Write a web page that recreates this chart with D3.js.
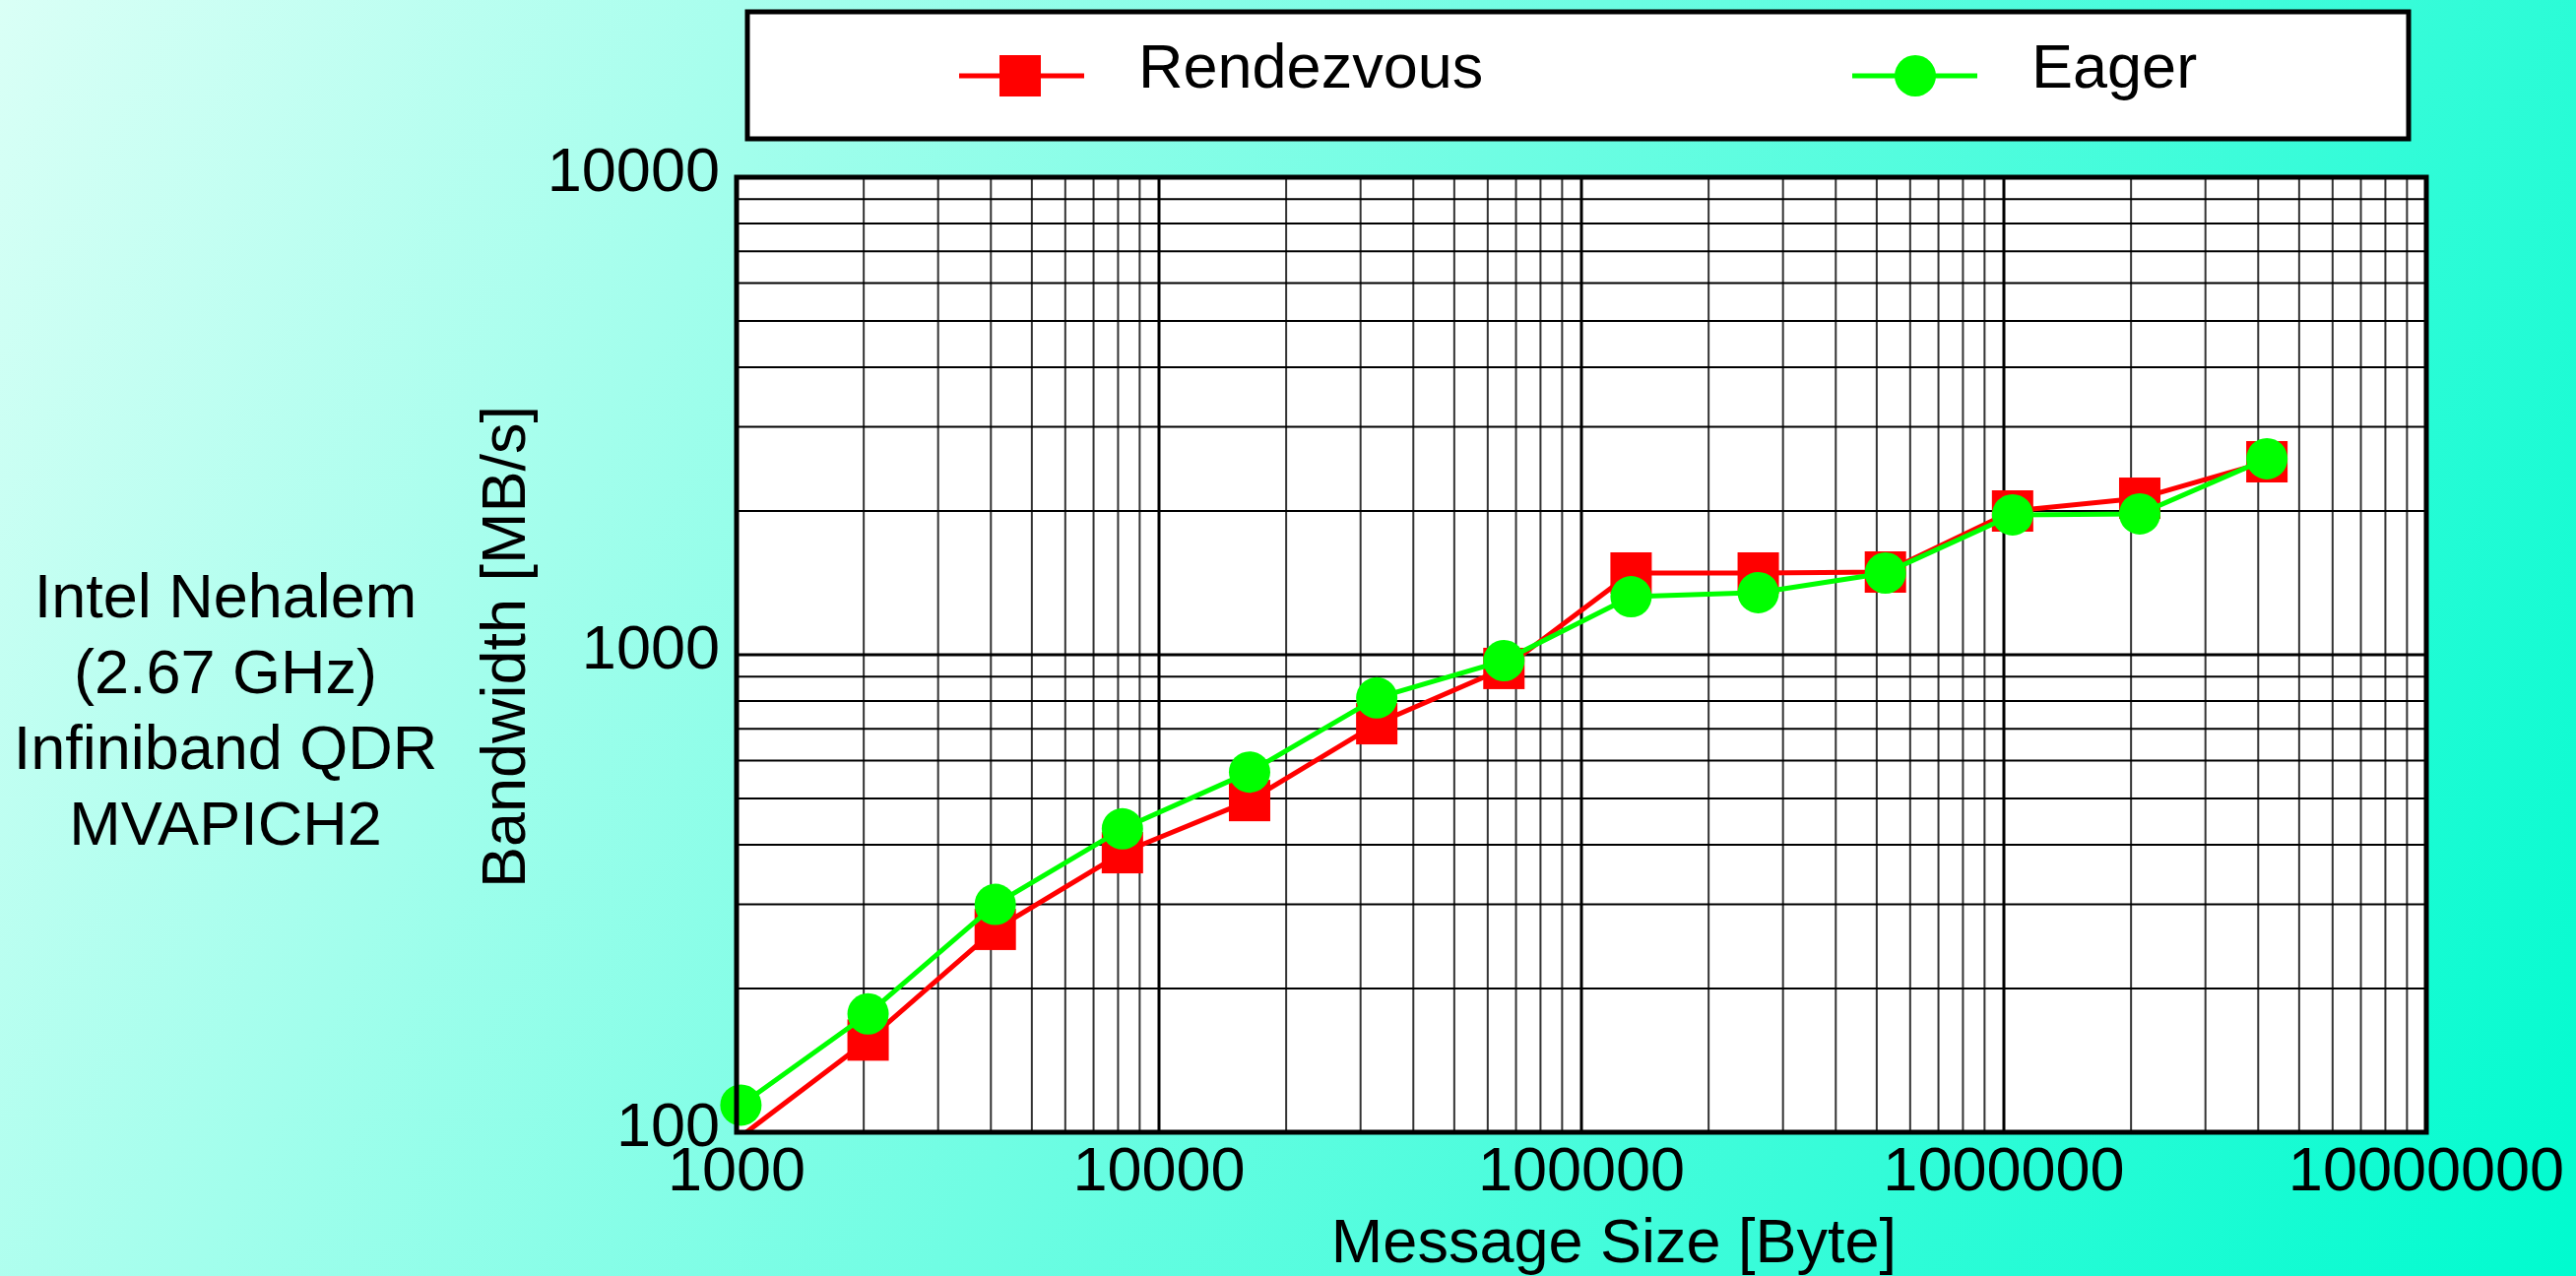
<!DOCTYPE html>
<html>
<head>
<meta charset="utf-8">
<script src="https://cdn.jsdelivr.net/npm/d3@7"></script>
<style>
  html, body { margin: 0; padding: 0; overflow: hidden; }
  svg { display: block; }
  text { font-family: "Liberation Sans", Arial, Helvetica, sans-serif; fill: #000; }
</style>
</head>
<body>
<svg id="chart" width="2616" height="1296"></svg>
<script>
// Message sizes (bytes): 1 KiB .. 4 MiB
const messageSizes = [1024, 2048, 4096, 8192, 16384, 32768, 65536, 131072, 262144, 524288, 1048576, 2097152, 4194304];
// Bandwidth in MB/s
const rendezvous = [98, 156, 266, 385, 495, 717, 936, 1483, 1483, 1490, 2000, 2127, 2536];
const eager      = [114, 177, 300, 432, 568, 812, 972, 1323, 1349, 1483, 1963, 1972, 2573];
const seriesNames = ["Rendezvous", "Eager"];
const xTickLabels = [1000, 10000, 100000, 1000000, 10000000];
const yTickLabels = [100, 1000, 10000];
const infoLines = ["Intel Nehalem", "(2.67 GHz)", "Infiniband QDR", "MVAPICH2"];

const W = 2616, H = 1296;
const plot = { left: 748, right: 2464, top: 180, bottom: 1150 };
const FONT = 63;

const svg = d3.select("#chart");

// background gradient
const defs = svg.append("defs");
const grad = defs.append("linearGradient").attr("id", "bg")
  .attr("gradientUnits", "userSpaceOnUse")
  .attr("x1", 0).attr("y1", 0).attr("x2", W).attr("y2", H);
grad.append("stop").attr("offset", "0%").attr("stop-color", "#dafff6");
grad.append("stop").attr("offset", "100%").attr("stop-color", "#00fbcf");
svg.append("rect").attr("width", W).attr("height", H).attr("fill", "url(#bg)");

defs.append("clipPath").attr("id", "plotClip")
  .append("rect")
  .attr("x", plot.left).attr("y", plot.top)
  .attr("width", plot.right - plot.left).attr("height", plot.bottom - plot.top);

const x = d3.scaleLog().domain([1000, 1e7]).range([plot.left, plot.right]);
const y = d3.scaleLog().domain([100, 10000]).range([plot.bottom, plot.top]);

// plot background
svg.append("rect")
  .attr("x", plot.left).attr("y", plot.top)
  .attr("width", plot.right - plot.left).attr("height", plot.bottom - plot.top)
  .attr("fill", "#fff");

const isDecade = v => Math.abs(Math.log10(v) - Math.round(Math.log10(v))) < 1e-9;

// grid lines
const grid = svg.append("g");
grid.selectAll("line.vx").data(x.ticks()).join("line")
  .attr("x1", d => x(d)).attr("x2", d => x(d))
  .attr("y1", plot.top).attr("y2", plot.bottom)
  .attr("stroke", d => isDecade(d) ? "#000" : "#333")
  .attr("stroke-width", d => isDecade(d) ? 3 : 2);
grid.selectAll("line.hy").data(y.ticks()).join("line")
  .attr("y1", d => y(d)).attr("y2", d => y(d))
  .attr("x1", plot.left).attr("x2", plot.right)
  .attr("stroke", "#000")
  .attr("stroke-width", d => isDecade(d) ? 3 : 2);

// series
const series = [
  { name: seriesNames[0], values: rendezvous, color: "#ff0000", shape: "square" },
  { name: seriesNames[1], values: eager, color: "#00ff00", shape: "circle" }
];
const line = d3.line().x(d => x(d[0])).y(d => y(d[1]));
const inDomain = d => d[1] >= 100 && d[1] <= 10000;
const M = 21; // marker half-size

series.forEach(s => {
  const pts = messageSizes.map((m, i) => [m, s.values[i]]);
  const g = svg.append("g").attr("clip-path", "url(#plotClip)");
  g.append("path").datum(pts)
    .attr("d", line).attr("fill", "none")
    .attr("stroke", s.color).attr("stroke-width", 5)
    .attr("stroke-linejoin", "round");
  const mk = svg.append("g");
  if (s.shape === "square") {
    mk.selectAll("rect").data(pts.filter(inDomain)).join("rect")
      .attr("x", d => x(d[0]) - M).attr("y", d => y(d[1]) - M)
      .attr("width", 2 * M).attr("height", 2 * M).attr("fill", s.color);
  } else {
    mk.selectAll("circle").data(pts.filter(inDomain)).join("circle")
      .attr("cx", d => x(d[0])).attr("cy", d => y(d[1]))
      .attr("r", M).attr("fill", s.color);
  }
});

// plot frame
svg.append("rect")
  .attr("x", plot.left).attr("y", plot.top)
  .attr("width", plot.right - plot.left).attr("height", plot.bottom - plot.top)
  .attr("fill", "none").attr("stroke", "#000").attr("stroke-width", 5);

// tick labels
svg.append("g").selectAll("text").data(xTickLabels).join("text")
  .attr("x", d => x(d)).attr("y", 1209)
  .attr("text-anchor", "middle").attr("font-size", FONT)
  .text(d => String(d));
svg.append("g").selectAll("text").data(yTickLabels).join("text")
  .attr("x", plot.left - 17).attr("y", d => y(d) + 14)
  .attr("text-anchor", "end").attr("font-size", FONT)
  .text(d => String(d));

// axis titles
svg.append("text")
  .attr("x", 1639).attr("y", 1282)
  .attr("text-anchor", "middle").attr("font-size", FONT)
  .text("Message Size [Byte]");
svg.append("text")
  .attr("transform", "translate(533,657) rotate(-90)")
  .attr("text-anchor", "middle").attr("font-size", FONT)
  .text("Bandwidth [MB/s]");

// system description
svg.append("g").selectAll("text").data(infoLines).join("text")
  .attr("x", 229).attr("y", (d, i) => 627 + i * 77)
  .attr("text-anchor", "middle").attr("font-size", FONT)
  .text(d => d);

// legend
const legend = svg.append("g");
legend.append("rect")
  .attr("x", 759).attr("y", 12).attr("width", 1687).attr("height", 129)
  .attr("fill", "#fff").attr("stroke", "#000").attr("stroke-width", 5);
const legendItems = [
  { s: series[0], x0: 974, x1: 1101, cx: 1036, tx: 1156 },
  { s: series[1], x0: 1881, x1: 2008, cx: 1945, tx: 2063 }
];
legendItems.forEach(it => {
  const cy = 77;
  legend.append("line")
    .attr("x1", it.x0).attr("x2", it.x1).attr("y1", cy).attr("y2", cy)
    .attr("stroke", it.s.color).attr("stroke-width", 5);
  if (it.s.shape === "square") {
    legend.append("rect")
      .attr("x", it.cx - M).attr("y", cy - M).attr("width", 2 * M).attr("height", 2 * M)
      .attr("fill", it.s.color);
  } else {
    legend.append("circle").attr("cx", it.cx).attr("cy", cy).attr("r", M)
      .attr("fill", it.s.color);
  }
  legend.append("text")
    .attr("x", it.tx).attr("y", 89).attr("font-size", FONT)
    .text(it.s.name);
});
</script>
</body>
</html>
